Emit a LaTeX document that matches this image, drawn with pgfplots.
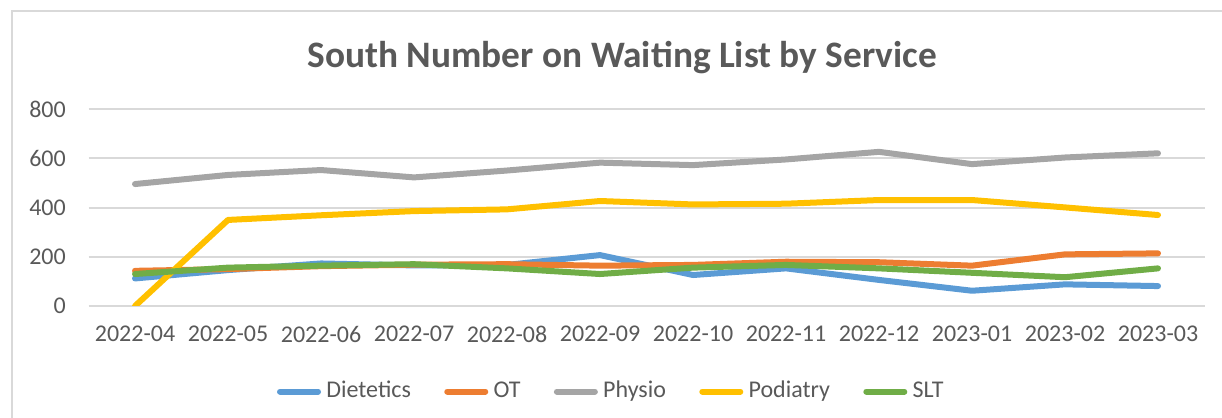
\documentclass[border=0pt]{standalone}
\usepackage{pgfplots}
\pgfplotsset{compat=1.18}
\usepackage{fontspec}
\setmainfont{Carlito}

\definecolor{txtgray}{HTML}{595959}
\definecolor{gridgray}{HTML}{D9D9D9}
\definecolor{cDiet}{HTML}{5B9BD5}
\definecolor{cOT}{HTML}{ED7D31}
\definecolor{cPhys}{HTML}{A5A5A5}
\definecolor{cPod}{HTML}{FFC000}
\definecolor{cSLT}{HTML}{70AD47}

\begin{document}
\begin{tikzpicture}
% 1 px of the reference = 0.375pt
\path[use as bounding box] (0,0) rectangle (458.25pt,156.75pt);
\draw[gridgray, line width=0.75pt] (4.5pt,-1pt) -- (4.5pt,152.6pt) -- (460pt,152.6pt);

\begin{axis}[
    at={(33.19pt,42pt)},
    anchor=south west,
    scale only axis,
    width=418.5pt,
    height=73.76pt,
    xmin=-0.5, xmax=11.5,
    ymin=0, ymax=800,
    xtick=data,
    xticklabels={2022-04,2022-05,2022-06,2022-07,2022-08,2022-09,2022-10,2022-11,2022-12,2023-01,2023-02,2023-03},
    ytick={0,200,400,600,800},
    axis line style={draw=none},
    tick style={draw=none},
    ymajorgrids,
    grid style={gridgray, line width=0.75pt},
    tick label style={font=\fontsize{9}{11}\selectfont, text=txtgray},
    /pgf/number format/assume math mode=true,
    yticklabel style={anchor=east, xshift=-5pt},
    xticklabel style={anchor=north, yshift=-4pt},
    legend columns=5,
    legend style={at={(0.47,-0.435)}, anchor=center, draw=none, fill=none,
        font=\fontsize{9}{11}\selectfont, text=txtgray,
        /tikz/every even column/.append style={column sep=10.5pt}},
    legend image code/.code={\draw[#1, line cap=round] (0pt,0pt) -- (14.25pt,0pt);},
    every axis plot/.append style={line width=2.25pt, line cap=round, line join=round, mark=none},
]
\addplot[cDiet] coordinates {(0,112) (1,146) (2,173) (3,165) (4,167) (5,207) (6,126) (7,153) (8,106) (9,62) (10,88) (11,81)};
\addlegendentry{Dietetics}
\addplot[cOT] coordinates {(0,143) (1,150) (2,162) (3,168) (4,170) (5,164) (6,167) (7,180) (8,178) (9,164) (10,210) (11,214)};
\addlegendentry{OT}
\addplot[cPhys] coordinates {(0,496) (1,533) (2,553) (3,523) (4,551) (5,583) (6,573) (7,596) (8,627) (9,577) (10,604) (11,621)};
\addlegendentry{Physio}
\addplot[cPod] coordinates {(0,0) (1,350) (2,369) (3,386) (4,393) (5,427) (6,413) (7,416) (8,431) (9,431) (10,401) (11,370)};
\addlegendentry{Podiatry}
\addplot[cSLT] coordinates {(0,130) (1,156) (2,164) (3,170) (4,153) (5,130) (6,156) (7,167) (8,153) (9,135) (10,117) (11,153)};
\addlegendentry{SLT}
\end{axis}

\node[font=\bfseries\fontsize{14}{17}\selectfont, text=txtgray] at (233.4pt,135pt) {South Number on Waiting List by Service};
\end{tikzpicture}
\end{document}
